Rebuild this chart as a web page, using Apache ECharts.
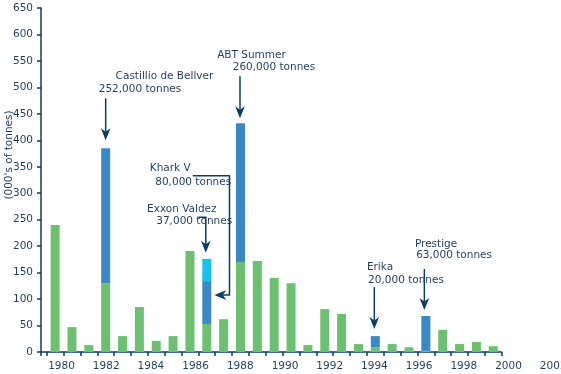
<!DOCTYPE html>
<html>
<head>
<meta charset="utf-8">
<script src="https://cdn.jsdelivr.net/npm/echarts@6/dist/echarts.min.js"></script>
<style>html,body{margin:0;padding:0;background:#fff;}#c{width:561px;height:374px;}</style>
</head>
<body>
<div id="c"></div>
<script>
// ---- data ----
const years = ['1980','1981','1982','1983','1984','1985','1986','1987','1988','1989','1990','1991','1992','1993','1994','1995','1996','1997','1998','1999','2000','2001','2002','2003','2004','2005','2006'];
const otherSpills = [240,47,13,130,30,85,21,30,191,53,62,170,172,140,130,13,81,72,15,9,15,9,2,42,15,19,11];
const majorSpills = [0,0,0,255,0,0,0,0,0,81,0,262,0,0,0,0,0,0,0,21,0,0,66,0,0,0,0];
const secondSpills = [0,0,0,0,0,0,0,0,0,42,0,0,0,0,0,0,0,0,0,0,0,0,0,0,0,0,0];
const yearLabels = ['1980','1982','1984','1986','1988','1990','1992','1994','1996','1998','2000','2002'];
const yTickMin = 0, yTickMax = 650, yTickStep = 50;
const yAxisTitle = "(000's of tonnes)";
const annotationYears = ['1983','1991','1989','1989','1999','2002'];
const annotationNames = ['Castillio de Bellver','ABT Summer','Khark V','Exxon Valdez','Erika','Prestige'];
const annotationAmounts = ['252,000 tonnes','260,000 tonnes','80,000 tonnes','37,000 tonnes','20,000 tonnes','63,000 tonnes'];
const annotationLevels = ['major','major','major','second','major','major'];

// ---- styles / layout ----
const navy = '#0b3d62';
const textColor = '#1f3d5e';
const font = 'DejaVu Sans';
const fs = 10.5;
const gridLeft = 46.7, gridTop = 8, gridW = 455, gridH = 344;
const yAxisOffset = 5.7;
// pixel offsets from anchor (bar centre, top of pointed segment)
const annotationLayout = [
  {path: [[0,-50],[0,-8]], t1: [58.8,-71.6], t2: [34.3,-59]},
  {path: [[-0.5,-47],[-0.5,-5]], t1: [11,-68.3], t2: [33.5,-56]},
  {path: [[-14,-105.4],[22.7,-105.4],[22.7,14],[7.5,14]], t1: [-36.6,-112.8], t2: [-13.6,-98.8]},
  {path: [[-8.3,-41.6],[-1,-41.6],[-1,-6]], t1: [-25,-49.6], t2: [-12.6,-38]},
  {path: [[-1,-49],[-1,-7]], t1: [4.7,-68.7], t2: [30.7,-56]},
  {path: [[-1.5,-47],[-1.5,-6]], t1: [10.2,-72], t2: [28.2,-60.3]}
];

const chart = echarts.init(document.getElementById('c'), null, {renderer: 'canvas', width: 561, height: 374});
const labelStyle = {color: textColor, fontFamily: font, fontSize: fs};

chart.setOption({
  animation: false,
  backgroundColor: '#ffffff',
  grid: [
    {left: gridLeft, top: gridTop, width: gridW, height: gridH, containLabel: false, outerBoundsMode: 'none'},
    {left: 39.15, top: gridTop + gridH - 1, width: 44.7 * yearLabels.length, height: 1, containLabel: false, outerBoundsMode: 'none'}
  ],
  xAxis: [
    {type: 'category', gridIndex: 0, data: years, boundaryGap: true,
     axisLine: {lineStyle: {color: navy, width: 1.5}},
     axisTick: {show: true, length: 4, interval: 0, lineStyle: {color: navy, width: 1.5}},
     axisLabel: {show: false}},
    {type: 'category', gridIndex: 1, data: yearLabels, boundaryGap: true, position: 'bottom',
     axisLine: {show: false}, axisTick: {show: false},
     axisLabel: Object.assign({interval: 0, margin: 9, hideOverlap: false}, labelStyle)}
  ],
  yAxis: [
    {type: 'value', gridIndex: 0, min: yTickMin, max: yTickMax, interval: yTickStep, offset: yAxisOffset,
     axisLine: {show: true, lineStyle: {color: navy, width: 1.5}},
     axisTick: {show: true, length: 4, lineStyle: {color: navy, width: 1.5}},
     splitLine: {show: false},
     axisLabel: Object.assign({margin: 8}, labelStyle)},
    {type: 'value', gridIndex: 1, show: false}
  ],
  series: [
    {name: 'other', type: 'bar', stack: 's', data: otherSpills, barWidth: 9, itemStyle: {color: '#6cc070'}},
    {name: 'major', type: 'bar', stack: 's', data: majorSpills, barWidth: 9, itemStyle: {color: '#3b88c8'}},
    {name: 'second', type: 'bar', stack: 's', data: secondSpills, barWidth: 9, itemStyle: {color: '#19c1f0'}}
  ]
});

function toPx(cat, val) {
  return chart.convertToPixel({xAxisIndex: 0, yAxisIndex: 0}, [cat, val]);
}
function arrowHead(tip, from) {
  const dx = tip[0] - from[0], dy = tip[1] - from[1];
  const len = Math.sqrt(dx*dx + dy*dy) || 1;
  const ux = dx/len, uy = dy/len, px = -uy, py = ux;
  const L = 12, W = 4.8, N = 3.5;
  return [
    tip,
    [tip[0] - ux*L + px*W, tip[1] - uy*L + py*W],
    [tip[0] - ux*(L-N), tip[1] - uy*(L-N)],
    [tip[0] - ux*L - px*W, tip[1] - uy*L - py*W]
  ];
}

const graphics = [];
for (let i = 0; i < annotationYears.length; i++) {
  const idx = years.indexOf(annotationYears[i]);
  let v = otherSpills[idx] + majorSpills[idx];
  if (annotationLevels[i] === 'second') v += secondSpills[idx];
  const a = toPx(annotationYears[i], v);
  const lay = annotationLayout[i];
  const pts = lay.path.map(p => [a[0] + p[0], a[1] + p[1]]);
  const tip = pts[pts.length - 1];
  const prev = pts[pts.length - 2];
  const head = arrowHead(tip, prev);
  const linePts = pts.slice(0, -1).concat([head[2]]);
  graphics.push({type: 'polyline', shape: {points: linePts}, style: {stroke: navy, lineWidth: 1.5, fill: null}, z: 10});
  graphics.push({type: 'polygon', shape: {points: head}, style: {fill: navy}, z: 10});
  graphics.push({type: 'text', x: a[0] + lay.t1[0], y: a[1] + lay.t1[1],
    style: {text: annotationNames[i], fill: textColor, font: fs + 'px "' + font + '"', textAlign: 'center', textVerticalAlign: 'middle'}, z: 10});
  graphics.push({type: 'text', x: a[0] + lay.t2[0], y: a[1] + lay.t2[1],
    style: {text: annotationAmounts[i], fill: textColor, font: fs + 'px "' + font + '"', textAlign: 'center', textVerticalAlign: 'middle'}, z: 10});
}
// small axis join between y axis and category axis start
const y0 = toPx(years[0], 0)[1];
const yAxisX = gridLeft - yAxisOffset;
graphics.push({type: 'line', shape: {x1: yAxisX, y1: y0, x2: gridLeft, y2: y0}, style: {stroke: navy, lineWidth: 1.5}});
graphics.push({type: 'line', shape: {x1: yAxisX, y1: y0, x2: yAxisX, y2: y0 + 4}, style: {stroke: navy, lineWidth: 1.5}});
// y axis title
graphics.push({type: 'text', x: 9, y: 155, rotation: Math.PI / 2,
  style: {text: yAxisTitle, fill: textColor, font: fs + 'px "' + font + '"', textAlign: 'center', textVerticalAlign: 'middle'}});

chart.setOption({graphic: graphics});
</script>
</body>
</html>
